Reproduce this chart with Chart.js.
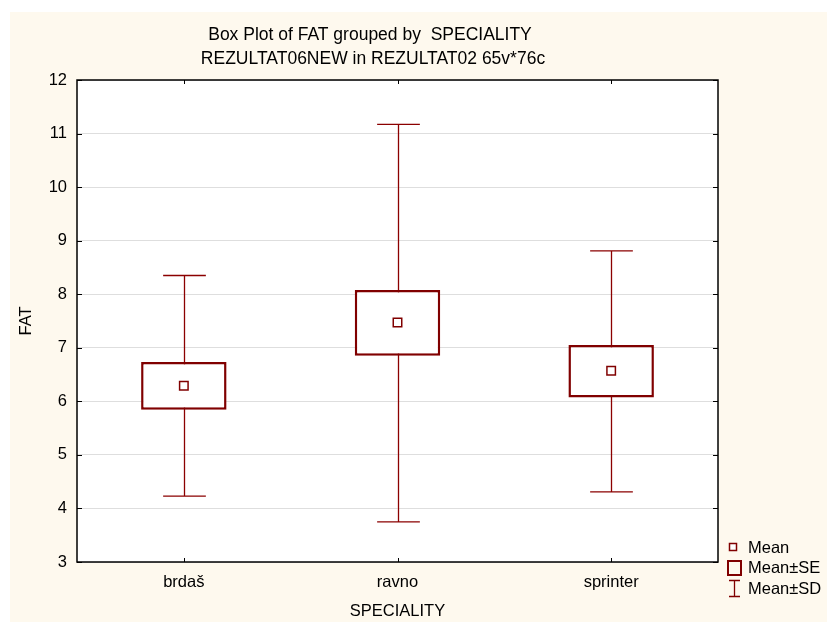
<!DOCTYPE html>
<html>
<head>
<meta charset="utf-8">
<script src="https://cdn.jsdelivr.net/npm/chart.js@4/dist/chart.umd.min.js"></script>
<style>
  html, body { margin: 0; padding: 0; background: #ffffff; }
  canvas { display: block; }
</style>
</head>
<body>
<canvas id="c" width="827" height="622"></canvas>
<script>
// ---- data ----
const categories = ['brdaš', 'ravno', 'sprinter'];
const means      = [6.29, 7.47, 6.57];
const seLow      = [5.845, 6.85, 6.07];
const seHigh     = [6.735, 8.08, 7.05];
const sdLow      = [4.23, 3.75, 4.31];
const sdHigh     = [8.35, 11.17, 8.81];
const yMin = 3, yMax = 12, yStep = 1;
const titleLines = ['Box Plot of FAT grouped by  SPECIALITY', 'REZULTAT06NEW in REZULTAT02 65v*76c'];
const legendLabels = ['Mean', 'Mean±SE', 'Mean±SD'];

const FONT = '"Liberation Sans", Arial, sans-serif';
const FS = 16.5;
const RED = '#800000';

const boxPlotPlugin = {
  id: 'boxPlotExtras',
  beforeDraw(chart) {
    const ctx = chart.ctx, a = chart.chartArea;
    ctx.save();
    ctx.fillStyle = '#ffffff';
    ctx.fillRect(0, 0, chart.width, chart.height);
    ctx.fillStyle = '#fef9ee';
    ctx.fillRect(10, 12, chart.width - 10, chart.height - 12);
    ctx.fillStyle = '#ffffff';
    ctx.fillRect(a.left, a.top, a.right - a.left, a.bottom - a.top);
    ctx.restore();
  },
  beforeDatasetsDraw(chart) {
    const ctx = chart.ctx, xs = chart.scales.x, ys = chart.scales.y;
    const meta = chart.getDatasetMeta(0);
    ctx.save();
    ctx.strokeStyle = '#8b0000';
    ctx.lineWidth = 1.3;
    categories.forEach((c, i) => {
      const x = Math.round(xs.getPixelForValue(i)) + 0.5;
      const bw = meta.data[i] ? meta.data[i].width : 80;
      const cap = bw / 4;
      const yt = ys.getPixelForValue(sdHigh[i]);
      const yb = ys.getPixelForValue(sdLow[i]);
      ctx.beginPath();
      ctx.moveTo(x, yt); ctx.lineTo(x, yb);
      ctx.moveTo(x - cap, yt); ctx.lineTo(x + cap, yt);
      ctx.moveTo(x - cap, yb); ctx.lineTo(x + cap, yb);
      ctx.stroke();
    });
    ctx.restore();
  },
  afterDraw(chart) {
    const ctx = chart.ctx, a = chart.chartArea, xs = chart.scales.x, ys = chart.scales.y;
    ctx.save();
    // frame
    ctx.strokeStyle = '#000';
    ctx.lineWidth = 1.5;
    ctx.strokeRect(a.left, a.top, a.right - a.left, a.bottom - a.top);
    // inward ticks
    ctx.lineWidth = 1;
    ctx.beginPath();
    ys.ticks.forEach(t => {
      const y = Math.round(ys.getPixelForValue(t.value)) + 0.5;
      ctx.moveTo(a.left, y); ctx.lineTo(a.left + 5, y);
      ctx.moveTo(a.right, y); ctx.lineTo(a.right - 5, y);
    });
    categories.forEach((c, i) => {
      const x = Math.round(xs.getPixelForValue(i)) + 0.5;
      ctx.moveTo(x, a.top); ctx.lineTo(x, a.top + 4);
      ctx.moveTo(x, a.bottom); ctx.lineTo(x, a.bottom - 4);
    });
    ctx.stroke();
    // titles
    ctx.fillStyle = '#000';
    ctx.font = '17.5px ' + FONT;
    ctx.textAlign = 'center';
    ctx.textBaseline = 'middle';
    ctx.fillText(titleLines[0], 370, 35);
    ctx.fillText(titleLines[1], 373, 59);
    // legend
    ctx.strokeStyle = RED;
    ctx.fillStyle = '#fff';
    ctx.lineWidth = 1.5;
    ctx.fillRect(729.5, 543.5, 7, 7);
    ctx.strokeRect(729.5, 543.5, 7, 7);
    ctx.lineWidth = 2;
    ctx.strokeRect(728, 561, 13, 14);
    ctx.lineWidth = 1.3;
    ctx.beginPath();
    ctx.moveTo(734.5, 580); ctx.lineTo(734.5, 597);
    ctx.moveTo(729, 580.5); ctx.lineTo(740, 580.5);
    ctx.moveTo(729, 596.5); ctx.lineTo(740, 596.5);
    ctx.stroke();
    ctx.fillStyle = '#000';
    ctx.font = FS + 'px ' + FONT;
    ctx.textAlign = 'left';
    ctx.fillText(legendLabels[0], 748, 548);
    ctx.fillText(legendLabels[1], 748, 568);
    ctx.fillText(legendLabels[2], 748, 589);
    ctx.restore();
  }
};

new Chart(document.getElementById('c'), {
  type: 'bar',
  data: {
    labels: categories,
    datasets: [
      {
        label: 'Mean±SE',
        data: seLow.map((lo, i) => [lo, seHigh[i]]),
        backgroundColor: '#ffffff',
        borderColor: RED,
        borderWidth: 2.5,
        borderSkipped: false,
        barPercentage: 0.4,
        categoryPercentage: 1.0,
        order: 2
      },
      {
        type: 'line',
        label: 'Mean',
        data: means,
        showLine: false,
        pointStyle: 'rect',
        pointRadius: 6,
        pointBorderWidth: 1.5,
        pointBorderColor: RED,
        pointBackgroundColor: '#ffffff',
        order: 1
      }
    ]
  },
  options: {
    responsive: false,
    animation: false,
    layout: { padding: { left: 0, top: 80, right: 109, bottom: 0 } },
    plugins: {
      legend: { display: false },
      tooltip: { enabled: false },
      title: { display: false }
    },
    scales: {
      x: {
        offset: true,
        grid: { display: false, drawTicks: false },
        border: { display: false },
        ticks: { color: '#000', font: { family: FONT, size: FS }, padding: 10.5 },
        title: { display: true, text: 'SPECIALITY', color: '#000', font: { family: FONT, size: FS }, padding: { top: 0, bottom: 1 } },
        afterFit(scale) { scale.height = 60; }
      },
      y: {
        min: yMin, max: yMax,
        grid: { color: '#dedede', lineWidth: 1, drawTicks: false },
        border: { display: false },
        ticks: { stepSize: yStep, color: '#000', font: { family: FONT, size: FS }, padding: 10 },
        title: { display: true, text: 'FAT', color: '#000', font: { family: FONT, size: FS }, padding: { top: 17, bottom: 0 } },
        afterFit(scale) { scale.width = 77; }
      }
    }
  },
  plugins: [boxPlotPlugin]
});
</script>
</body>
</html>
